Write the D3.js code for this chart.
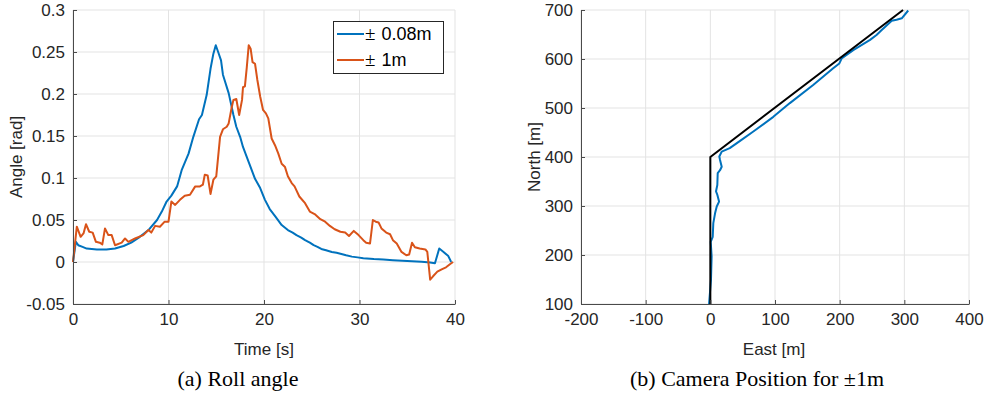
<!DOCTYPE html>
<html>
<head>
<meta charset="utf-8">
<script src="https://cdn.jsdelivr.net/npm/d3@7"></script>
<style>
  html, body { margin: 0; padding: 0; background: #fff; }
  svg { display: block; }
  .tick text { font-family: "Liberation Sans", Arial, sans-serif; font-size: 17px; fill: #262626; }
</style>
</head>
<body>
<svg id="chart" width="985" height="396"></svg>
<script>
// ---------- Data ----------
const timeBlue = [0,0.3,0.55,1.0,1.43,2.5,3.5,4.4,5.3,6.1,7.0,7.9,8.8,9.3,9.8,10.3,10.9,11.4,12.1,12.6,13.2,13.5,14.0,14.4,14.7,14.95,15.2,15.5,15.7,16.3,16.8,17.1,17.5,17.8,18.4,19.06,19.6,20.1,20.6,21.2,21.85,22.5,23.0,23.4,23.9,24.3,24.8,25.2,25.6,26.0,26.5,27.1,27.6,28.1,28.6,29.2,29.8,30.4,31.5,32.5,33.5,34.5,35.5,36.5,37.4,37.9,38.35,38.8,39.3,39.6];
const rollBlue = [0,0.024,0.020,0.018,0.016,0.015,0.015,0.016,0.019,0.023,0.030,0.038,0.050,0.060,0.072,0.079,0.090,0.110,0.129,0.149,0.170,0.175,0.199,0.230,0.248,0.258,0.250,0.240,0.223,0.201,0.175,0.161,0.149,0.137,0.119,0.099,0.088,0.074,0.063,0.054,0.044,0.038,0.035,0.032,0.029,0.026,0.023,0.020,0.018,0.0155,0.014,0.012,0.011,0.0095,0.008,0.0064,0.0055,0.0045,0.0035,0.003,0.0022,0.0015,0.001,0.0003,-0.0005,-0.0015,0.016,0.012,0.007,0.0];

const timeOrange = [0,0.4,0.8,1.1,1.36,1.7,2.06,2.4,2.8,3.07,3.35,3.7,4.05,4.4,5.1,5.45,5.8,6.5,7.36,7.9,8.2,8.6,9.1,9.6,10.0,10.3,10.7,11.2,11.7,12.25,12.8,13.3,13.6,13.8,14.1,14.4,14.7,15.0,15.4,15.7,16.1,16.3,16.6,16.8,17.1,17.4,17.7,17.8,18.0,18.2,18.4,18.6,18.8,19.06,19.3,19.6,19.9,20.2,20.45,20.8,21.15,21.5,21.85,22.2,22.5,22.9,23.2,23.7,24.3,24.8,25.3,25.9,26.4,26.9,27.4,28.0,28.5,28.9,29.4,29.9,30.4,30.7,31.1,31.4,31.7,32.0,32.3,32.8,33.2,33.5,33.9,34.4,34.9,35.2,35.5,35.8,36.3,36.9,37.1,37.4,37.7,38.15,38.6,39.06,39.5,39.8];
const rollOrange = [0,0.042,0.030,0.034,0.045,0.036,0.035,0.024,0.023,0.021,0.040,0.032,0.032,0.020,0.023,0.028,0.024,0.028,0.032,0.038,0.035,0.043,0.042,0.048,0.048,0.072,0.068,0.074,0.079,0.080,0.090,0.090,0.092,0.104,0.103,0.081,0.098,0.102,0.149,0.158,0.161,0.165,0.183,0.193,0.194,0.175,0.193,0.208,0.209,0.232,0.258,0.254,0.238,0.236,0.217,0.197,0.181,0.177,0.171,0.147,0.139,0.129,0.117,0.113,0.102,0.094,0.090,0.078,0.070,0.060,0.057,0.051,0.048,0.043,0.039,0.036,0.035,0.031,0.037,0.032,0.026,0.023,0.022,0.050,0.048,0.047,0.040,0.035,0.033,0.026,0.022,0.012,0.008,0.009,0.023,0.0175,0.016,0.015,0.012,-0.021,-0.017,-0.0115,-0.0087,-0.0063,-0.0024,0.0];

const legendSigns = ["\u00B1", "\u00B1"];
const legendValues = ["0.08m", "1m"];

const eastRef = [0, 0, 298];
const northRef = [100, 400, 700];
const eastCam = [-2,1,2,0.6,3.7,4.6,7.3,9.9,13.5,10.8,8.8,10.8,11.4,15,17.6,15,13.9,17.6,30,46,66.5,97.4,123,159,190,199.5,203,221,247,257,265,280.5,288,296,306];
const northCam = [100,149,197,227,237,265,285,299,309,323,330,343,367,373,380,394,401,411,418,433,452,482,510,547,581,591,601,618,639,649,659,678,680,683,699];

const rollTicksX = [0,10,20,30,40];
const rollTicksY = [-0.05,0,0.05,0.1,0.15,0.2,0.25,0.3];
const posTicksX = [-200,-100,0,100,200,300,400];
const posTicksY = [100,200,300,400,500,600,700];

// ---------- Style ----------
const BLUE = "#0072BD", ORANGE = "#D95319", BLACK = "#000000";
const GRID = "#e3e3e3", AXIS = "#4a4a4a", TXT = "#262626";
const SANS = "'Liberation Sans', Arial, sans-serif";
const SERIF = "'Liberation Serif', 'Times New Roman', serif";

const svg = d3.select("#chart");
const fmtNum = d => String(+d.toFixed(2)); // ASCII hyphen-minus like the original

function drawGrid(g, x, y, xt, yt) {
  g.append("g").selectAll("line").data(xt).join("line")
    .attr("x1", d => x(d)).attr("x2", d => x(d))
    .attr("y1", y.range()[0]).attr("y2", y.range()[1])
    .attr("stroke", GRID).attr("stroke-width", 1);
  g.append("g").selectAll("line").data(yt).join("line")
    .attr("y1", d => y(d)).attr("y2", d => y(d))
    .attr("x1", x.range()[0]).attr("x2", x.range()[1])
    .attr("stroke", GRID).attr("stroke-width", 1);
}
function drawAxisLines(g, x, y, xt, yt) {
  const ax = g.append("g").attr("transform", `translate(0,${y.range()[0]})`)
    .call(d3.axisBottom(x).tickValues(xt).tickFormat(fmtNum).tickSizeInner(-4).tickSizeOuter(0).tickPadding(9));
  const ay = g.append("g").attr("transform", `translate(${x.range()[0]},0)`)
    .call(d3.axisLeft(y).tickValues(yt).tickFormat(fmtNum).tickSizeInner(-4).tickSizeOuter(0).tickPadding(8));
  [ax, ay].forEach(a => {
    a.select(".domain").attr("stroke", AXIS).attr("stroke-width", 1);
    a.selectAll(".tick line").attr("stroke", AXIS);
    a.selectAll(".tick text").attr("fill", TXT);
  });
}

// ---------- Left: Roll angle ----------
const xL = d3.scaleLinear().domain([0, 40]).range([73, 455]);
const yL = d3.scaleLinear().domain([-0.05, 0.3]).range([304, 10]);
const gL = svg.append("g");
drawGrid(gL, xL, yL, rollTicksX, rollTicksY);

const line = d3.line();
gL.append("path")
  .attr("d", line(timeBlue.map((t, i) => [xL(t), yL(rollBlue[i])])))
  .attr("fill", "none").attr("stroke", BLUE).attr("stroke-width", 2).attr("stroke-linejoin", "round");
gL.append("path")
  .attr("d", line(timeOrange.map((t, i) => [xL(t), yL(rollOrange[i])])))
  .attr("fill", "none").attr("stroke", ORANGE).attr("stroke-width", 2).attr("stroke-linejoin", "round");

drawAxisLines(gL, xL, yL, rollTicksX, rollTicksY);

gL.append("text").attr("x", 264).attr("y", 355).attr("text-anchor", "middle")
  .attr("font-family", SANS).attr("font-size", 17).attr("fill", TXT).text("Time [s]");
gL.append("text").attr("transform", "translate(22,157) rotate(-90)").attr("text-anchor", "middle")
  .attr("font-family", SANS).attr("font-size", 17).attr("fill", TXT).text("Angle [rad]");
gL.append("text").attr("x", 238).attr("y", 386).attr("text-anchor", "middle")
  .attr("font-family", SERIF).attr("font-size", 22).attr("fill", "#000").text("(a) Roll angle");

// legend
const lg = gL.append("g");
lg.append("rect").attr("x", 333.5).attr("y", 21.5).attr("width", 110).attr("height", 52)
  .attr("fill", "#fff").attr("stroke", TXT).attr("stroke-width", 1);
[BLUE, ORANGE].forEach((c, i) => {
  const yy = 34 + i * 26;
  lg.append("line").attr("x1", 337).attr("x2", 364).attr("y1", yy).attr("y2", yy)
    .attr("stroke", c).attr("stroke-width", 2);
  const t = lg.append("text").attr("x", 365).attr("y", yy + 6).attr("font-family", SANS).attr("font-size", 18)
    .attr("fill", "#000");
  t.append("tspan").attr("font-family", SERIF).attr("font-size", 19).text(legendSigns[i]);
  t.append("tspan").attr("dx", 6).text(legendValues[i]);
});

// ---------- Right: Camera position ----------
const xR = d3.scaleLinear().domain([-200, 400]).range([581, 969]);
const yR = d3.scaleLinear().domain([100, 700]).range([304, 10]);
const gR = svg.append("g");
drawGrid(gR, xR, yR, posTicksX, posTicksY);

gR.append("path")
  .attr("d", line(eastCam.map((e, i) => [xR(e), yR(northCam[i])])))
  .attr("fill", "none").attr("stroke", BLUE).attr("stroke-width", 2).attr("stroke-linejoin", "round");
gR.append("path")
  .attr("d", line(eastRef.map((e, i) => [xR(e), yR(northRef[i])])))
  .attr("fill", "none").attr("stroke", BLACK).attr("stroke-width", 2).attr("stroke-linejoin", "round");

drawAxisLines(gR, xR, yR, posTicksX, posTicksY);

gR.append("text").attr("x", 774).attr("y", 355).attr("text-anchor", "middle")
  .attr("font-family", SANS).attr("font-size", 17).attr("fill", TXT).text("East [m]");
gR.append("text").attr("transform", "translate(540,157) rotate(-90)").attr("text-anchor", "middle")
  .attr("font-family", SANS).attr("font-size", 17).attr("fill", TXT).text("North [m]");
gR.append("text").attr("x", 757).attr("y", 386).attr("text-anchor", "middle")
  .attr("font-family", SERIF).attr("font-size", 22).attr("fill", "#000").text("(b) Camera Position for \u00B11m");
</script>
</body>
</html>
